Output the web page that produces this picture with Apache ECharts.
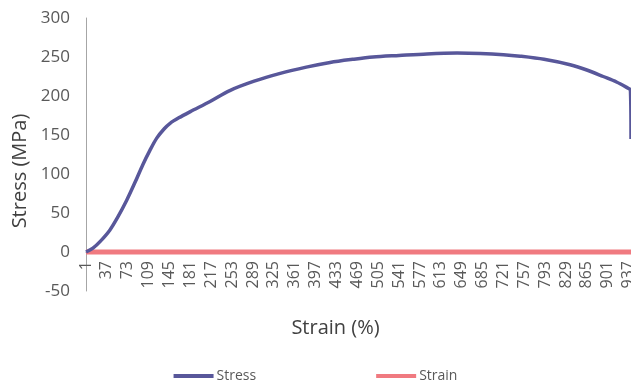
<!DOCTYPE html>
<html>
<head>
<meta charset="utf-8">
<script src="https://cdn.jsdelivr.net/npm/echarts@6/dist/echarts.min.js"></script>
<style>html,body{margin:0;padding:0;background:#fff}#c{width:631px;height:380px}</style>
</head>
<body>
<div id="c"></div>
<script>
// Number of strain samples (category labels 1..941, one label every 36)
var sampleCount = 941;
var categories = [];
for (var i = 1; i <= sampleCount; i++) categories.push(String(i));

// Stress curve: sample index -> stress (MPa)
var stressIndex = [0, 12, 25, 41, 55, 70, 85, 98, 110, 122, 135, 145, 160, 180, 214, 248, 290, 335, 380, 421, 460, 495, 540, 588, 640, 680, 720, 749, 790, 835, 865, 892, 915, 935, 939, 940];
var stressValue = [0, 5, 14, 28, 45, 66, 90, 112, 130, 146, 158, 165, 172, 180, 193, 207, 219, 229, 237, 243, 247, 250, 252, 254, 255, 254.5, 253, 251, 247, 240, 233, 225, 218, 210, 208, 145];

// Strain series (flat at zero)
var strainIndex = [0, 940];
var strainValue = [0, 0];

var stressData = stressIndex.map(function (x, k) { return [x, stressValue[k]]; });
var strainData = strainIndex.map(function (x, k) { return [x, strainValue[k]]; });

var font = 'Open Sans';
var txt = '#595959';
var chart = echarts.init(document.getElementById('c'), null, {renderer: 'canvas'});
chart.setOption({
  animation: false,
  backgroundColor: '#ffffff',
  grid: {left: 86, right: 0, top: 18, bottom: 89, containLabel: false, outerBoundsMode: 'none'},
  legend: {
    data: ['Stress', 'Strain'],
    left: 'center', top: 364,
    itemWidth: 40, itemHeight: 4, itemGap: 120,
    icon: 'rect',
    textStyle: {fontFamily: font, fontSize: 14, color: txt, padding: [0, 0, 0, -2]}
  },
  xAxis: {
    type: 'category',
    data: categories,
    boundaryGap: false,
    offset: -39,
    name: 'Strain (%)',
    nameLocation: 'middle',
    nameGap: 66,
    nameMoveOverlap: false,
    nameTextStyle: {fontFamily: font, fontSize: 20, color: '#404040', padding: [0, 46, 0, 0]},
    axisLine: {show: true, onZero: false, lineStyle: {color: '#a6a6a6'}},
    axisTick: {show: false},
    axisLabel: {interval: 35, rotate: 90, fontFamily: font, fontSize: 16, color: txt, margin: 9},
    splitLine: {show: false}
  },
  yAxis: {
    type: 'value',
    min: -50, max: 300, interval: 50,
    name: 'Stress (MPa)',
    nameLocation: 'middle',
    nameGap: 52,
    nameTextStyle: {fontFamily: font, fontSize: 20, color: '#404040', padding: [0, 0, 0, -33]},
    axisLine: {show: true, lineStyle: {color: '#a6a6a6'}},
    axisTick: {show: false},
    axisLabel: {fontFamily: font, fontSize: 17, color: txt, margin: 16},
    splitLine: {show: false}
  },
  series: [
    {
      name: 'Stress', type: 'line', data: stressData,
      showSymbol: false, symbol: 'none',
      smooth: 0.3,
      lineStyle: {width: 3.5, color: '#58579a'},
      itemStyle: {color: '#58579a'},
      z: 3
    },
    {
      name: 'Strain', type: 'line', data: strainData,
      showSymbol: false, symbol: 'none',
      lineStyle: {width: 5, color: '#f07a80'},
      itemStyle: {color: '#f07a80'},
      z: 2
    }
  ]
});
</script>
</body>
</html>
